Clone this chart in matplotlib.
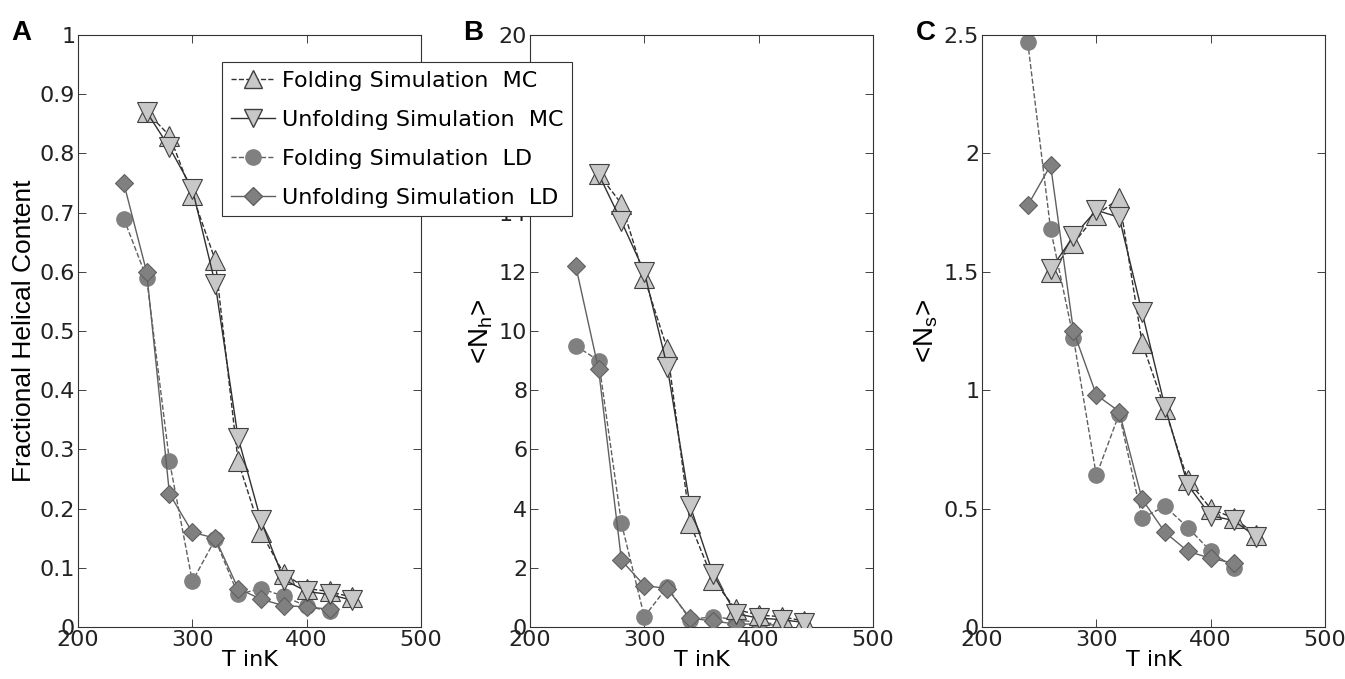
import matplotlib
matplotlib.use("Agg")
import matplotlib.pyplot as plt
from matplotlib.lines import Line2D

plt.rcParams['font.family'] = ['DejaVu Sans']

T_mc = [260, 280, 300, 320, 340, 360, 380, 400, 420, 440]
T_ld = [240, 260, 280, 300, 320, 340, 360, 380, 400, 420]

# panel A: fractional helical content
a_fold_mc = [0.87, 0.83, 0.73, 0.62, 0.28, 0.16, 0.09, 0.065, 0.06, 0.05]
a_unfold_mc = [0.87, 0.81, 0.74, 0.58, 0.32, 0.18, 0.08, 0.06, 0.055, 0.045]
a_fold_ld = [0.69, 0.59, 0.28, 0.077, 0.148, 0.055, 0.065, 0.052, 0.035, 0.027]
a_unfold_ld = [0.75, 0.60, 0.225, 0.16, 0.15, 0.065, 0.047, 0.036, 0.034, 0.03]

# panel B: <N_h>
b_fold_mc = [15.3, 14.3, 11.8, 9.4, 3.5, 1.6, 0.6, 0.4, 0.35, 0.2]
b_unfold_mc = [15.3, 13.7, 12.0, 8.8, 4.1, 1.8, 0.45, 0.3, 0.25, 0.15]
b_fold_ld = [9.5, 9.0, 3.5, 0.35, 1.35, 0.25, 0.35, 0.25, 0.15, 0.1]
b_unfold_ld = [12.2, 8.7, 2.25, 1.4, 1.3, 0.3, 0.2, 0.1, 0.1, 0.05]

# panel C: <N_s>
c_fold_mc = [1.50, 1.62, 1.74, 1.81, 1.20, 0.92, 0.62, 0.50, 0.46, 0.39]
c_unfold_mc = [1.51, 1.65, 1.76, 1.73, 1.33, 0.93, 0.60, 0.47, 0.45, 0.38]
c_fold_ld = [2.47, 1.68, 1.22, 0.64, 0.90, 0.46, 0.51, 0.42, 0.32, 0.25]
c_unfold_ld = [1.78, 1.95, 1.25, 0.98, 0.91, 0.54, 0.40, 0.32, 0.29, 0.27]

labels = ['Folding Simulation  MC', 'Unfolding Simulation  MC',
          'Folding Simulation  LD', 'Unfolding Simulation  LD']

light = '#c8c8c8'
dark = '#808080'

panels = [
    ('A', 'Fractional Helical Content', 19, (0, 1), [0, 0.1, 0.2, 0.3, 0.4, 0.5, 0.6, 0.7, 0.8, 0.9, 1],
     ['0', '0.1', '0.2', '0.3', '0.4', '0.5', '0.6', '0.7', '0.8', '0.9', '1'],
     a_fold_mc, a_unfold_mc, a_fold_ld, a_unfold_ld),
    ('B', '<N$_\\mathregular{h}$>', 20, (0, 20), [0, 2, 4, 6, 8, 10, 12, 14, 16, 18, 20],
     ['0', '2', '4', '6', '8', '10', '12', '14', '16', '18', '20'],
     b_fold_mc, b_unfold_mc, b_fold_ld, b_unfold_ld),
    ('C', '<N$_\\mathregular{s}$>', 20, (0, 2.5), [0, 0.5, 1, 1.5, 2, 2.5],
     ['0', '0.5', '1', '1.5', '2', '2.5'],
     c_fold_mc, c_unfold_mc, c_fold_ld, c_unfold_ld),
]

fig = plt.figure(figsize=(13.45, 6.79), dpi=100)
lefts = [78 / 1345, 530 / 1345, 982 / 1345]
w = 343 / 1345
b = 52 / 679
h = 592 / 679

for i, (letter, ylab, ysize, ylim, yt, ytl, fmc, umc, fld, uld) in enumerate(panels):
    ax = fig.add_axes([lefts[i], b, w, h])
    ax.plot(T_ld, fld, '--', color='#606060', lw=1, marker='o', ms=11,
            mfc=dark, mec=dark, zorder=2)
    ax.plot(T_ld, uld, '-', color='#606060', lw=1, marker='D', ms=9,
            mfc=dark, mec='#606060', mew=0.8, zorder=3)
    ax.plot(T_mc, fmc, '--', color='#303030', lw=1, marker='^', ms=14,
            mfc=light, mec='#404040', mew=0.8, zorder=4)
    ax.plot(T_mc, umc, '-', color='#303030', lw=1, marker='v', ms=14,
            mfc=light, mec='#404040', mew=0.8, zorder=5)
    ax.set_xlim(200, 500)
    ax.set_ylim(*ylim)
    ax.set_xticks([200, 300, 400, 500])
    ax.set_yticks(yt)
    ax.set_yticklabels(ytl)
    ax.tick_params(direction='in', top=True, right=True, labelsize=16,
                   length=6, width=0.6, colors='#222222', pad=2)
    for s in ax.spines.values():
        s.set_linewidth(0.8)
        s.set_color('#333333')
    ax.set_xlabel('T inK', fontsize=16, labelpad=0)
    ax.set_ylabel(ylab, fontsize=ysize, family=['Liberation Sans', 'DejaVu Sans'],
                  labelpad=3)
    fig.text(lefts[i] - 0.042, 0.97, letter, fontsize=20, fontweight='bold',
             va='top', ha='center', family=['Liberation Sans', 'DejaVu Sans'])

handles = [
    Line2D([], [], ls='--', color='#303030', lw=1, marker='^', ms=13, mfc=light, mec='#404040'),
    Line2D([], [], ls='-', color='#303030', lw=1, marker='v', ms=13, mfc=light, mec='#404040'),
    Line2D([], [], ls='--', color='#606060', lw=1, marker='o', ms=11, mfc=dark, mec=dark),
    Line2D([], [], ls='-', color='#606060', lw=1, marker='D', ms=9, mfc=dark, mec='#606060'),
]
leg = fig.legend(handles, labels, loc='upper left', bbox_to_anchor=(222 / 1345, 1 - 62 / 679),
                 fontsize=16, frameon=True, fancybox=False, framealpha=1, borderaxespad=0,
                 handlelength=2.0, handletextpad=0.3, borderpad=0.4, labelspacing=0.85)
leg.get_frame().set_edgecolor('#333333')
leg.get_frame().set_linewidth(0.8)
leg.set_zorder(10)

fig.savefig('out.png', dpi=100)
